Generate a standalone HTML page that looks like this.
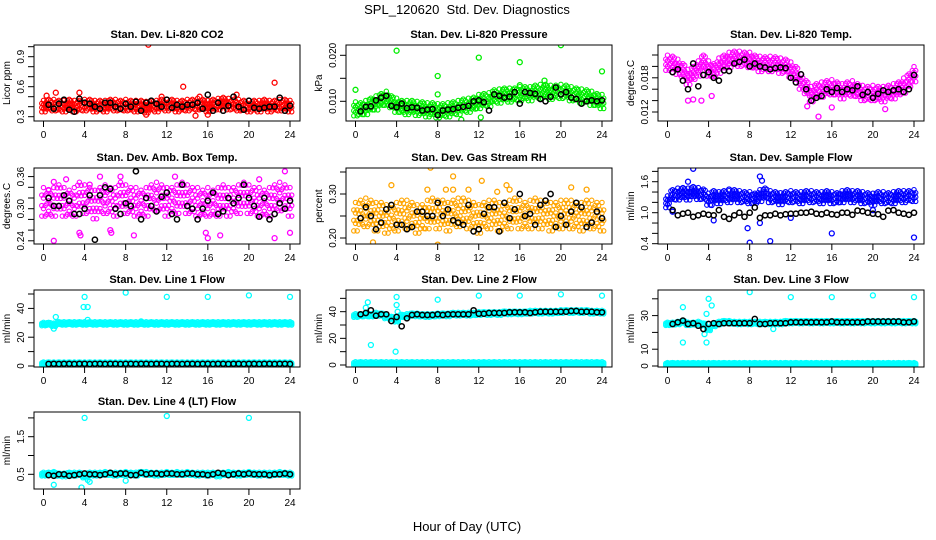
<!DOCTYPE html>
<html><head><meta charset="utf-8"><style>
html,body{margin:0;padding:0;background:#fff;}
svg{display:block;font-family:"Liberation Sans",sans-serif;}
</style></head><body>
<svg id="chart" width="936" height="540" viewBox="0 0 936 540" xmlns="http://www.w3.org/2000/svg">
<rect x="0" y="0" width="936" height="540" fill="#fff"/>
<text x="467" y="14" font-size="13" text-anchor="middle" xml:space="preserve">SPL_120620&#160; Std. Dev. Diagnostics</text>
<text x="467" y="531" font-size="13" text-anchor="middle">Hour of Day (UTC)</text>
</svg>
<script>
// ---------- data ----------
const xTicks = [0,4,8,12,16,20,24];
const p1Cloud = [0.40,0.41,0.41,0.40,0.40,0.41,0.40,0.40,0.41,0.41,0.40,0.40,0.40,0.41,0.41,0.40,0.41,0.40,0.40,0.40,0.39,0.40,0.40,0.41,0.41,0.41,0.40,0.40,0.41,0.41,0.42,0.41,0.40,0.41,0.42,0.43,0.42,0.41,0.41,0.40,0.40,0.40,0.40,0.41,0.40,0.40,0.41,0.41,0.40];
const p1Black = [0.42,0.38,0.43,0.47,0.37,0.35,0.48,0.44,0.43,0.40,0.38,0.44,0.44,0.40,0.38,0.43,0.40,0.45,0.36,0.44,0.46,0.43,0.40,0.47,0.39,0.42,0.40,0.42,0.42,0.44,0.38,0.52,0.36,0.44,0.36,0.41,0.50,0.40,0.37,0.46,0.39,0.38,0.39,0.40,0.40,0.49,0.36,0.41];
const p1OutT = [10.2,13.6,22.5,1.2,3.5,0.3,14.8,10,16,15.2,11.5,18.8];
const p1OutV = [1.02,0.6,0.64,0.54,0.54,0.51,0.31,0.32,0.32,0.5,0.5,0.52];

const p2Cloud = [0.0082,0.0080,0.0085,0.0090,0.0095,0.0100,0.0105,0.0095,0.0090,0.0085,0.0085,0.0085,0.0083,0.0082,0.0080,0.0080,0.0078,0.0078,0.0080,0.0082,0.0085,0.0088,0.0090,0.0092,0.0098,0.0100,0.0102,0.0108,0.0110,0.0112,0.0112,0.0112,0.0115,0.0115,0.0115,0.0118,0.0120,0.0120,0.0118,0.0118,0.0120,0.0118,0.0115,0.0112,0.0110,0.0108,0.0105,0.0100,0.0098];
const p2Black = [0.0078,0.0088,0.0089,0.0102,0.0108,0.0112,0.0090,0.0087,0.0095,0.0085,0.0087,0.0086,0.0080,0.0082,0.0083,0.0070,0.0080,0.0082,0.0083,0.0086,0.0088,0.0090,0.0100,0.0102,0.0098,0.0080,0.0115,0.0112,0.0108,0.0110,0.0120,0.0095,0.0120,0.0118,0.0116,0.0105,0.0100,0.0110,0.0130,0.0115,0.0120,0.0108,0.0105,0.0095,0.0100,0.0102,0.0100,0.0102];
const p2OutT = [0,4,8,8,12,16,16,20,24,18.4,10.3,12.2];
const p2OutV = [0.0125,0.021,0.0155,0.0115,0.0195,0.0185,0.0135,0.0222,0.0165,0.0145,0.0060,0.0065];

const p3Cloud = [0.0205,0.0203,0.0198,0.0190,0.0180,0.0185,0.0195,0.0205,0.0195,0.0190,0.0200,0.0205,0.0210,0.0212,0.0212,0.0210,0.0210,0.0205,0.0203,0.0202,0.0203,0.0202,0.0200,0.0198,0.0193,0.0185,0.0172,0.0160,0.0150,0.0155,0.0158,0.0160,0.0162,0.0158,0.0155,0.0158,0.0160,0.0155,0.0152,0.0150,0.0152,0.0150,0.0150,0.0152,0.0155,0.0158,0.0165,0.0172,0.0185];
const p3Black = [0.0190,0.0195,0.0175,0.0160,0.0205,0.0165,0.0185,0.0190,0.0180,0.0175,0.0193,0.0192,0.0205,0.0208,0.0212,0.0200,0.0205,0.0200,0.0198,0.0195,0.0197,0.0198,0.0197,0.0180,0.0172,0.0186,0.0160,0.0140,0.0145,0.0148,0.0160,0.0155,0.0162,0.0155,0.0160,0.0158,0.0165,0.0150,0.0155,0.0145,0.0152,0.0158,0.0155,0.0158,0.0160,0.0155,0.0160,0.0185];
const p3OutT = [2,2.5,3.3,4.3,14.7,13.6,16,21.2];
const p3OutV = [0.0140,0.0142,0.0140,0.0148,0.0112,0.0130,0.0128,0.0125];

const p4Cloud = [0.31,0.305,0.31,0.315,0.31,0.305,0.31,0.32,0.315,0.31,0.305,0.31,0.315,0.31,0.31,0.32,0.315,0.31,0.31,0.305,0.31,0.315,0.32,0.315,0.31,0.31,0.315,0.32,0.315,0.31,0.31,0.305,0.31,0.305,0.31,0.315,0.31,0.31,0.315,0.32,0.315,0.31,0.31,0.305,0.31,0.315,0.32,0.315,0.31];
const p4Black = [0.32,0.305,0.305,0.325,0.315,0.29,0.29,0.30,0.325,0.242,0.325,0.34,0.337,0.30,0.29,0.31,0.305,0.37,0.28,0.32,0.305,0.295,0.322,0.33,0.29,0.28,0.345,0.305,0.30,0.28,0.30,0.315,0.33,0.29,0.295,0.32,0.31,0.32,0.345,0.32,0.305,0.285,0.32,0.28,0.29,0.31,0.30,0.315];
const p4OutT = [1,1,2.2,3.5,3.6,5.5,6.5,6.6,7.5,8.8,12.8,15.8,16,17.2,21,22.5,23.5,24,0.5,4.5];
const p4OutV = [0.24,0.35,0.355,0.255,0.25,0.36,0.26,0.255,0.36,0.25,0.36,0.255,0.245,0.25,0.355,0.245,0.37,0.255,0.335,0.345];

const p5Cloud = [0.245,0.25,0.255,0.25,0.245,0.245,0.24,0.24,0.245,0.25,0.25,0.245,0.24,0.24,0.25,0.255,0.25,0.25,0.245,0.25,0.255,0.255,0.25,0.245,0.24,0.245,0.25,0.25,0.245,0.245,0.25,0.255,0.25,0.245,0.25,0.255,0.25,0.25,0.245,0.245,0.25,0.25,0.25,0.245,0.245,0.25,0.25,0.245,0.245];
const p5Black = [0.245,0.27,0.25,0.22,0.235,0.265,0.275,0.23,0.23,0.22,0.225,0.26,0.26,0.25,0.25,0.28,0.25,0.265,0.24,0.235,0.23,0.275,0.215,0.22,0.255,0.27,0.27,0.215,0.28,0.245,0.265,0.3,0.25,0.255,0.23,0.275,0.285,0.30,0.225,0.25,0.23,0.26,0.28,0.27,0.225,0.235,0.26,0.245];
const p5OutT = [7.3,8,9.5,9.5,12.3,15,14.7,8.8,3.5,22.5,1.7,7,11,13.8,21];
const p5OutV = [0.36,0.185,0.34,0.31,0.33,0.31,0.32,0.31,0.32,0.31,0.19,0.31,0.31,0.305,0.315];

const p6Cloud = [1.20,1.32,1.35,1.36,1.35,1.38,1.36,1.33,1.25,1.30,1.28,1.30,1.30,1.32,1.30,1.28,1.28,1.25,1.32,1.35,1.30,1.28,1.26,1.28,1.30,1.28,1.28,1.30,1.30,1.28,1.28,1.30,1.28,1.26,1.30,1.32,1.30,1.30,1.28,1.26,1.25,1.28,1.28,1.26,1.28,1.30,1.30,1.30,1.32];
const p6Black = [1.05,0.95,0.98,1.0,0.92,0.95,0.98,0.96,0.95,1.05,0.92,0.88,0.95,1.0,0.92,1.0,1.1,0.9,0.95,0.95,0.98,0.95,0.97,0.98,0.98,1.0,1.0,1.02,0.98,0.97,1.0,0.97,0.96,1.0,1.0,0.96,1.04,1.03,1.0,0.98,0.97,0.92,1.04,1.05,1.0,0.98,0.96,1.0];
const p6OutT = [8,10,16,24,7.8,9,2.5,9,2,0.5,4.3,4.5,9.2,12,6,20];
const p6OutV = [0.42,0.45,0.6,0.52,0.7,1.7,1.85,0.8,1.6,1.02,1.15,0.85,1.62,0.9,1.45,1.05];

const p7CloudHi = [29,29,28.5,29.5,29.5,29.5,29.5,29.5,29.5,29.5,29.5,29.5,29.5,29.5,29.5,29.5,29.5,29.5,29.5,29.5,29.5,29.5,29.5,29.5,29.5,29.5,29.5,29.5,29.5,29.5,29.5,29.5,29.5,29.5,29.5,29.5,29.5,29.5,29.5,29.5,29.5,29.5,29.5,29.5,29.5,29.5,29.5,29.5,29.5];
const p7CloudLo = [1.5,1.5,1.5,1.5,1.5,1.5,1.5,1.5,1.5,1.5,1.5,1.5,1.5,1.5,1.5,1.5,1.5,1.5,1.5,1.5,1.5,1.5,1.5,1.5,1.5,1.5,1.5,1.5,1.5,1.5,1.5,1.5,1.5,1.5,1.5,1.5,1.5,1.5,1.5,1.5,1.5,1.5,1.5,1.5,1.5,1.5,1.5,1.5,1.5];
const p7Black = [1.4,1.5,1.4,1.5,1.5,1.4,1.5,1.5,1.4,1.5,1.5,1.4,1.5,1.5,1.4,1.5,1.5,1.4,1.5,1.5,1.4,1.5,1.5,1.4,1.5,1.5,1.4,1.5,1.5,1.4,1.5,1.5,1.4,1.5,1.5,1.4,1.5,1.5,1.4,1.5,1.5,1.4,1.5,1.5,1.4,1.5,1.5,1.4];
const p7OutT = [4,3.9,4.3,8,12,16,20,24,1.2,1,9.5,4.3];
const p7OutV = [48,41,41,51,48,48,49,48,34,26,31,32];

const p8CloudHi = [37,37,37.5,37,38,37.5,36,35,33.5,36.5,37,37.5,37.5,37,37,37,37.5,37.5,37.5,38,38,38,38,38,38.5,38.5,38.5,38.5,38.5,39,39,39,39,39,39.5,39.5,39.5,39.5,39.5,39.5,40,40,40,40,40,40,39.5,39.5,39.5];
const p8CloudLo = [1,1,1,1,1,1,1,1,1,1,1,1,1,1,1,1,1,1,1,1,1,1,1,1,1,1,1,1,1,1,1,1,1,1,1,1,1,1,1,1,1,1,1,1,1,1,1,1,1];
const p8Black = [38,39,41,37,38,38,33,36,29,35,37.5,38,37.5,37.5,37.5,38,37.5,38,38,38,38,38,41,38.5,38.5,39,39,39,39,39.5,39.5,39.5,39.5,39,39.5,40,40,40,40,40,40,40.5,40.5,40,40,40,39.5,39.5];
const p8OutT = [4,8,12,16,20,24,4,3.9,1.5,1.2,1,4.1];
const p8OutV = [51,49,52,52,53,52,45,10,15,47,43,40];

const p9CloudHi = [25,25,25.5,26,25,25,25.5,24.5,22,24,25.5,26,26,25.5,25.5,25.5,25.5,25.5,25.5,25.5,25.5,25.5,25.5,26,26,26,26,26,26,26,26,26,26,26,26,26,26,26,26,26,26,26,26,26,26,26,26,26,26];
const p9CloudLo = [1,1,1,1,1,1,1,1,1,1,1,1,1,1,1,1,1,1,1,1,1,1,1,1,1,1,1,1,1,1,1,1,1,1,1,1,1,1,1,1,1,1,1,1,1,1,1,1,1];
const p9Black = [25,26,27,25,25.5,24,22,25,25.5,25,25.5,25.5,25.5,25.5,25.5,25.5,28,25,25,25.5,25.5,25.5,25.5,26,26,26,26,26,26,26,26,26.5,26,26,26,26,26,26,26.5,26.5,26.5,26.5,26.5,26.5,26.5,26,26,26.5];
const p9OutT = [8,12,16,20,24,1.5,4,4.3,1.5,3.8,3.8,3.6,10.3];
const p9OutV = [44,41,41,42,41,35,40,36,14,14,31,19,22];

const p10Cloud = [0.5,0.5,0.52,0.48,0.48,0.5,0.5,0.5,0.45,0.5,0.5,0.5,0.52,0.5,0.5,0.5,0.52,0.5,0.5,0.52,0.52,0.5,0.5,0.5,0.52,0.5,0.52,0.5,0.52,0.5,0.5,0.5,0.5,0.5,0.48,0.5,0.52,0.5,0.5,0.5,0.52,0.5,0.5,0.5,0.5,0.5,0.52,0.5,0.5];
const p10Black = [0.48,0.46,0.5,0.5,0.46,0.48,0.5,0.52,0.5,0.5,0.48,0.5,0.54,0.5,0.52,0.52,0.48,0.48,0.54,0.5,0.52,0.52,0.5,0.52,0.52,0.5,0.5,0.52,0.52,0.5,0.5,0.48,0.5,0.54,0.52,0.48,0.5,0.52,0.5,0.52,0.5,0.5,0.5,0.48,0.5,0.5,0.52,0.5];
const p10OutT = [4,12,20,1,3.7,8,4.3,4.5];
const p10OutV = [2.0,2.05,2.0,0.22,0.15,0.33,0.35,0.3];

// ---------- layout ----------
const rows = [[45,121],[168,244],[290,367],[412,489]];
const cols = [34,346,658];
const W = 266;
const panels = [
 {n:'co2',title:'Stan. Dev. Li-820 CO2',ylab:'Licor ppm',r:0,c:0,v0:0.3,y0:116.7,k:100,ticks:[0.3,0.4,0.5,0.6,0.7,0.8,0.9,1.0],labels:['0.3','0.6','0.9'],lv:[0.3,0.6,0.9],color:'#ff0000',clouds:[p1Cloud],spread:0.03,black:p1Black,ot:p1OutT,ov:p1OutV},
 {n:'pressure',title:'Stan. Dev. Li-820 Pressure',ylab:'kPa',r:0,c:1,v0:0.010,y0:101.3,k:4600,ticks:[0.010,0.015,0.020],labels:['0.010','0.020'],lv:[0.010,0.020],color:'#00ee00',clouds:[p2Cloud],spread:0.0008,black:p2Black,ot:p2OutT,ov:p2OutV},
 {n:'temp',title:'Stan. Dev. Li-820 Temp.',ylab:'degrees.C',r:0,c:2,v0:0.012,y0:112,k:5700,ticks:[0.012,0.014,0.016,0.018,0.020,0.022],labels:['0.012','0.018'],lv:[0.012,0.018],color:'#ff00ff',clouds:[p3Cloud],spread:0.0007,black:p3Black,ot:p3OutT,ov:p3OutV},
 {n:'amb-box-temp',title:'Stan. Dev. Amb. Box Temp.',ylab:'degrees.C',r:1,c:0,v0:0.30,y0:208.7,k:535,ticks:[0.24,0.26,0.28,0.30,0.32,0.34,0.36],labels:['0.24','0.30','0.36'],lv:[0.24,0.30,0.36],color:'#ff00ff',clouds:[p4Cloud],spread:0.014,black:p4Black,ot:p4OutT,ov:p4OutV},
 {n:'gas-rh',title:'Stan. Dev. Gas Stream RH',ylab:'percent',r:1,c:1,v0:0.30,y0:194,k:440,ticks:[0.20,0.25,0.30,0.35],labels:['0.20','0.30'],lv:[0.20,0.30],color:'#ffa500',clouds:[p5Cloud],spread:0.017,black:p5Black,ot:p5OutT,ov:p5OutV},
 {n:'sample-flow',title:'Stan. Dev. Sample Flow',ylab:'ml/min',r:1,c:2,v0:1.0,y0:212.7,k:51.65,ticks:[0.4,0.6,0.8,1.0,1.2,1.4,1.6,1.8],labels:['0.4','1.0','1.6'],lv:[0.4,1.0,1.6],color:'#0000ff',clouds:[p6Cloud],spread:0.06,black:p6Black,ot:p6OutT,ov:p6OutV},
 {n:'line1-flow',title:'Stan. Dev. Line 1 Flow',ylab:'ml/min',r:2,c:0,v0:0,y0:366,k:1.44,ticks:[0,10,20,30,40,50],labels:['0','20','40'],lv:[0,20,40],color:'#00ffff',clouds:[p7CloudHi,p7CloudLo],spread:0.6,black:p7Black,ot:p7OutT,ov:p7OutV},
 {n:'line2-flow',title:'Stan. Dev. Line 2 Flow',ylab:'ml/min',r:2,c:1,v0:0,y0:365,k:1.333,ticks:[0,10,20,30,40,50],labels:['0','20','40'],lv:[0,20,40],color:'#00ffff',clouds:[p8CloudHi,p8CloudLo],spread:0.7,black:p8Black,ot:p8OutT,ov:p8OutV},
 {n:'line3-flow',title:'Stan. Dev. Line 3 Flow',ylab:'ml/min',r:2,c:2,v0:0,y0:366,k:1.68,ticks:[0,10,20,30,40],labels:['0','10','30'],lv:[0,10,30],color:'#00ffff',clouds:[p9CloudHi,p9CloudLo],spread:0.5,black:p9Black,ot:p9OutT,ov:p9OutV},
 {n:'line4-flow',title:'Stan. Dev. Line 4 (LT) Flow',ylab:'ml/min',r:3,c:0,v0:0.5,y0:474.3,k:37.6,ticks:[0.5,1.0,1.5,2.0],labels:['0.5','1.5'],lv:[0.5,1.5],color:'#00ffff',clouds:[p10Cloud],spread:0.025,black:p10Black,ot:p10OutT,ov:p10OutV}
];
const NS = 'http://www.w3.org/2000/svg';
const svg = document.getElementById('chart');
function mk(tag, attrs, parent){ const e=document.createElementNS(NS,tag); for(const a in attrs) e.setAttribute(a,attrs[a]); parent.appendChild(e); return e; }
const offs = [-1.4,0,1.4];
panels.forEach(p=>{
  const L = cols[p.c], T = rows[p.r][0], B = rows[p.r][1], R = L+W;
  const xs = t => L+9.5 + t*(W-19.5)/24;
  const ys = v => p.y0 - (v-p.v0)*p.k;
  const g = mk('g',{},svg);
  
  
  const cp = mk('clipPath',{id:'cp-'+p.n},g);
  mk('rect',{x:L,y:T,width:W,height:B-T},cp);
  const pts = mk('g',{'clip-path':'url(#cp-'+p.n+')',fill:'none'},g);
  
  
  p.clouds.forEach(arr=>{
    const n = arr.length;
    arr.forEach((v,i)=>{
      const t = i*24/(n-1);
      for(let j=0;j<3;j++){
        const dt=(j-1)*0.17, sh=(j===1)?0.7:((i%2)?0.3:-0.3);
        offs.forEach(o=>{
          mk('circle',{cx:xs(t+dt).toFixed(1),cy:ys(v+(o+sh)*p.spread).toFixed(1),r:2.2,stroke:p.color,'stroke-width':1.1},pts);
        });
      }
    });
  });
  p.ot.forEach((t,i)=>{
    const c = mk('circle',{cx:xs(t).toFixed(1),cy:ys(p.ov[i]).toFixed(1),r:2.5,stroke:p.color,'stroke-width':1.3},pts);
    
    
  });
  p.black.forEach((v,i)=>{
    const t=(i+1)*24/p.black.length;
    const c = mk('circle',{cx:xs(t).toFixed(1),cy:ys(v).toFixed(1),r:2.6,stroke:'#000','stroke-width':1.5},pts);
    
    
  });
  const box = mk('rect',{x:L,y:T,width:W,height:B-T,fill:'none',stroke:'#000','stroke-width':1},g);
  
  
  const tt = mk('text',{x:L+W/2,y:T-7,'font-size':11,'font-weight':'bold','text-anchor':'middle'},g);
  tt.textContent = p.title;
  
  
  const xa = mk('g',{},g);
  
  
  mk('line',{x1:xs(0),x2:xs(24),y1:B,y2:B,stroke:'#000'},xa);
  xTicks.forEach(t=>{
    mk('line',{x1:xs(t),x2:xs(t),y1:B,y2:B+6,stroke:'#000'},xa);
    const lb = mk('text',{x:xs(t),y:B+17,'font-size':10,'text-anchor':'middle'},xa);
    lb.textContent = String(t);
  });
  const ya = mk('g',{},g);
  
  
  const yt0 = ys(p.ticks[0]), yt1 = ys(p.ticks[p.ticks.length-1]);
  mk('line',{x1:L,x2:L,y1:yt0,y2:yt1,stroke:'#000'},ya);
  p.ticks.forEach(v=>{ mk('line',{x1:L-6,x2:L,y1:ys(v),y2:ys(v),stroke:'#000'},ya); });
  p.labels.forEach((s,i)=>{
    const yy = ys(p.lv[i]);
    const lb = mk('text',{x:L-10,y:yy,'font-size':10,'text-anchor':'middle',transform:'rotate(-90 '+(L-10)+' '+yy+')'},ya);
    lb.textContent = s;
  });
  const ylx = L-24, yly=(T+B)/2;
  const yl = mk('text',{x:ylx,y:yly,'font-size':10,'text-anchor':'middle',transform:'rotate(-90 '+ylx+' '+yly+')'},g);
  yl.textContent = p.ylab;
  
  
});
</script>
</body></html>
